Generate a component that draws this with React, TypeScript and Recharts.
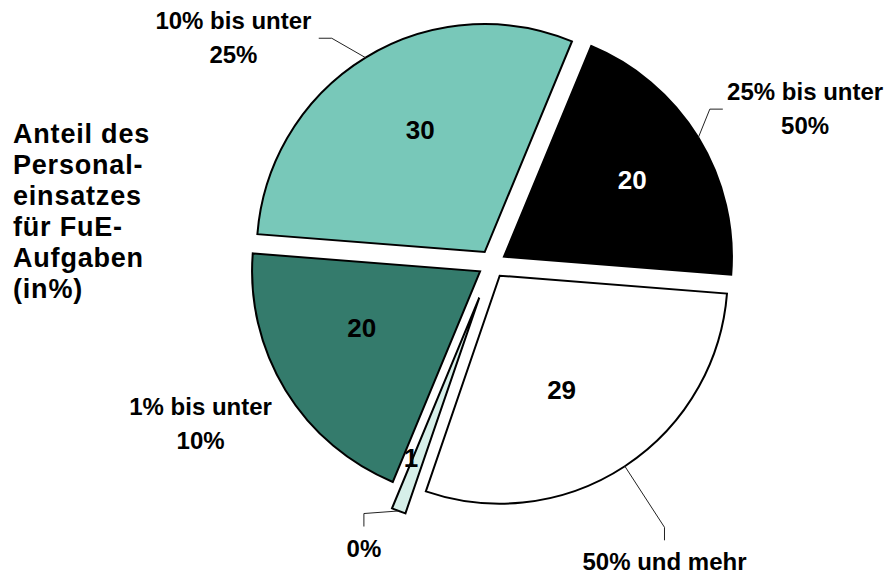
import { PieChart, Pie, Cell, Sector } from 'recharts';

// Anteil des Personaleinsatzes für FuE-Aufgaben (in %)
const categories = ['25% bis unter\n50%', '50% und mehr', '0%', '1% bis unter\n10%', '10% bis unter\n25%'];
const values = [20, 29, 1, 20, 30];

const sliceColors = ['#000000', '#ffffff', '#d6efe9', '#347b6c', '#78c8b9'];
const valueColors = ['#ffffff', '#000000', '#000000', '#000000', '#000000'];

// layout: how far each slice is pulled out, where its texts sit (clockwise nudges in degrees)
const explode = [14, 14, 36, 14, 14];
const outerLayout = [
  { dist: 1.471, nudge: 5.4, leader: 'side' },
  { dist: 1.45, nudge: 3.4, leader: 'below' },
  { dist: 1.211, nudge: 4.0, leader: 'below' },
  { dist: 1.396, nudge: 2.9, leader: 'none' },
  { dist: 1.447, nudge: -18.1, leader: 'side' },
];
const innerLayout = [
  { ratio: 0.655, nudge: 0.7 },
  { ratio: 0.571, nudge: 4.9 },
  { ratio: 0.763, nudge: 2.4 },
  { ratio: 0.575, nudge: 6.0 },
  { ratio: 0.606, nudge: 3.7 },
];

const data = categories.map((name, i) => ({ name, value: values[i] }));

const RAD = Math.PI / 180;
const FONT = '"Liberation Sans", Arial, sans-serif';

const point = (cx: number, cy: number, r: number, angle: number): [number, number] => [
  cx + r * Math.cos(-angle * RAD),
  cy + r * Math.sin(-angle * RAD),
];

const sliceIndex = (props: any) =>
  typeof props.index === 'number' ? props.index : categories.indexOf(props.payload?.name ?? props.name);

const ExplodedSector = (props: any) => {
  const i = sliceIndex(props);
  const [x, y] = point(props.cx, props.cy, explode[i] || 0, props.midAngle);
  return <Sector {...props} cx={x} cy={y} />;
};

const renderLabel = (props: any) => {
  const { cx, cy, midAngle, outerRadius } = props;
  const i = sliceIndex(props);
  const [ox, oy] = point(cx, cy, explode[i], midAngle);

  // value inside the slice
  const inner = innerLayout[i];
  const [vx, vy] = point(ox, oy, outerRadius * inner.ratio, midAngle - inner.nudge);

  // category text outside
  const lay = outerLayout[i];
  const [tx, ty] = point(ox, oy, outerRadius * lay.dist, midAngle - lay.nudge);
  const lines = categories[i].split('\n');
  const lineGap = 34;
  const firstBaseline = lines.length > 1 ? ty - 9 : ty + 8;
  const half = Math.max(...lines.map(l => l.length)) * 6.1;

  const [ax, ay] = point(ox, oy, outerRadius, midAngle);
  let leader: string | null = null;
  if (lay.leader === 'side') {
    const right = tx > ox;
    const ex = right ? tx - half - 3 : tx + half + 6;
    const bx = right ? ex - 13 : ex + 13;
    leader = `M${ax},${ay}L${bx},${ty}L${ex},${ty}`;
  } else if (lay.leader === 'below') {
    const top = firstBaseline - 17;
    const ey = top - 13;
    leader = `M${ax},${ay}L${tx},${ey - 13}L${tx},${ey}`;
  }

  return (
    <g>
      {leader && <path d={leader} fill="none" stroke="#222" strokeWidth={1} />}
      <text x={vx} y={vy + 9} textAnchor="middle" fill={valueColors[i]}
        style={{ fontFamily: FONT, fontSize: 26, fontWeight: 700 }}>
        {values[i]}
      </text>
      {lines.map((line, k) => (
        <text key={k} x={tx} y={firstBaseline + k * lineGap} textAnchor="middle" fill="#000"
          style={{ fontFamily: FONT, fontSize: 24, fontWeight: 700 }}>
          {line}
        </text>
      ))}
    </g>
  );
};

const titleLines = ['Anteil des', 'Personal-', 'einsatzes', 'für FuE-', 'Aufgaben', '(in%)'];

export default function App() {
  return (
    <div style={{ position: 'absolute', left: 0, top: 0, width: 887, height: 577, background: '#fff' }}>
      <PieChart width={887} height={577} margin={{ top: 0, right: 0, bottom: 0, left: 0 }}>
        <Pie
          data={data}
          dataKey="value"
          nameKey="name"
          cx={492}
          cy={264}
          outerRadius={228}
          startAngle={67.5}
          endAngle={-292.5}
          stroke="#000"
          strokeWidth={2}
          shape={ExplodedSector}
          activeShape={ExplodedSector}
          inactiveShape={ExplodedSector}
          label={renderLabel}
          labelLine={false}
          isAnimationActive={false}
        >
          {data.map((d, i) => (
            <Cell key={d.name} fill={sliceColors[i]} />
          ))}
        </Pie>
      </PieChart>
      <div style={{
        position: 'absolute', left: 13, top: 119, fontFamily: FONT, fontSize: 27,
        fontWeight: 700, lineHeight: '31px', letterSpacing: '0.8px', color: '#000',
      }}>
        {titleLines.map(l => <div key={l}>{l}</div>)}
      </div>
    </div>
  );
}
